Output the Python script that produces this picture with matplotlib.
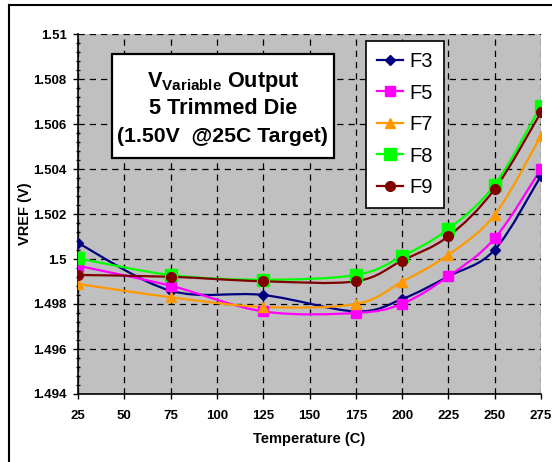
import matplotlib
matplotlib.use('Agg')
import matplotlib.pyplot as plt
from matplotlib.path import Path
from matplotlib.patches import PathPatch, Rectangle
from matplotlib.lines import Line2D
import numpy as np

plt.rcParams['font.family'] = ['Liberation Sans', 'DejaVu Sans']
plt.rcParams['mathtext.fontset'] = 'custom'
plt.rcParams['mathtext.rm'] = 'Liberation Sans:bold'
plt.rcParams['mathtext.it'] = 'Liberation Sans:bold'
plt.rcParams['mathtext.bf'] = 'Liberation Sans:bold'

temps = [25, 75, 125, 175, 200, 225, 250, 275]
f3 = [1.50071, 1.49859, 1.49840, 1.49767, 1.49822, 1.49923, 1.50041, 1.50370]
f5 = [1.49970, 1.49881, 1.49767, 1.49760, 1.49801, 1.49923, 1.50092, 1.50400]
f7 = [1.49889, 1.49830, 1.49787, 1.49800, 1.49899, 1.50019, 1.50197, 1.50548]
f8 = [1.50003, 1.49929, 1.49908, 1.49929, 1.50012, 1.50133, 1.50330, 1.50681]
f9 = [1.49929, 1.49921, 1.49901, 1.49901, 1.49993, 1.50101, 1.50311, 1.50652]

xticks = [25, 50, 75, 100, 125, 150, 175, 200, 225, 250, 275]
yticks = [1.494, 1.496, 1.498, 1.5, 1.502, 1.504, 1.506, 1.508, 1.51]
ytick_labels = ['1.494', '1.496', '1.498', '1.5', '1.502', '1.504',
                '1.506', '1.508', '1.51']

series = [
    ('F3', f3, '#000080', 'D', 5),
    ('F5', f5, '#FF00FF', 's', 7),
    ('F7', f7, '#FF9900', '^', 7.5),
    ('F8', f8, '#00FF00', 's', 8),
    ('F9', f9, '#800000', 'o', 7),
]


def smooth_path(x, y):
    # excel style smoothed line: catmull-rom as cubic bezier
    pts = np.column_stack([x, y]).astype(float)
    n = len(pts)
    verts = [pts[0]]
    codes = [Path.MOVETO]
    for i in range(n - 1):
        p0 = pts[max(i - 1, 0)]
        p1 = pts[i]
        p2 = pts[i + 1]
        p3 = pts[min(i + 2, n - 1)]
        c1 = p1 + (p2 - p0) / 6.0
        c2 = p2 - (p3 - p1) / 6.0
        verts += [c1, c2, p2]
        codes += [Path.CURVE4] * 3
    return Path(verts, codes)


fig = plt.figure(figsize=(5.52, 4.62), dpi=100)
ax = fig.add_axes([78/552, 1 - 394/462, 463/552, 360/462])
ax.set_facecolor('#C0C0C0')

handles = []
for name, vals, col, mk, ms in series:
    ax.add_patch(PathPatch(smooth_path(temps, vals), fill=False,
                           edgecolor=col, lw=1.6, zorder=3))
    ax.plot(temps, vals, linestyle='none', marker=mk, color=col,
            markersize=ms, markeredgecolor=col, zorder=4)
    handles.append(Line2D([], [], color=col, lw=1.6, marker=mk,
                          markersize=ms, label=name))

ax.set_xlim(25, 275)
ax.set_ylim(1.494, 1.51)
ax.set_xticks(xticks)
ax.set_yticks(yticks)
ax.set_yticklabels(ytick_labels)
ax.set_yticks(np.arange(1.494, 1.5101, 0.0004), minor=True)
ax.grid(True, which='major', color='black', linestyle=(0, (5, 4)), lw=0.9)
ax.set_axisbelow(True)
for s in ['top', 'right']:
    ax.spines[s].set_visible(False)
for s in ['left', 'bottom']:
    ax.spines[s].set_linewidth(1.2)
ax.tick_params(axis='both', which='major', labelsize=9.5, length=3.6,
               width=1, direction='out')
ax.tick_params(axis='x', pad=8)
ax.tick_params(axis='y', pad=4.5)
ax.tick_params(axis='y', which='minor', length=3, width=1, direction='inout')
for lab in ax.get_xticklabels() + ax.get_yticklabels():
    lab.set_fontweight('bold')

# title box
ax.add_patch(Rectangle((0.0734, 0.6556), 0.4796, 0.2888, transform=ax.transAxes,
                       facecolor='white', edgecolor='black', lw=1.6, zorder=6))
tx = 0.313
ax.text(tx, 0.868, r'V$_{\mathrm{Variable}}$ Output', transform=ax.transAxes,
        ha='center', va='center', fontsize=15.6, fontweight='bold', zorder=7)
ax.text(tx, 0.792, '5 Trimmed Die', transform=ax.transAxes,
        ha='center', va='center', fontsize=15.6, fontweight='bold', zorder=7)
ax.text(tx, 0.714, '(1.50V  @25C Target)', transform=ax.transAxes,
        ha='center', va='center', fontsize=15.3, fontweight='bold', zorder=7)

leg = ax.legend(handles=handles, loc='upper left',
                bbox_to_anchor=(0.622, 0.9806), fontsize=14.5,
                frameon=True, fancybox=False, framealpha=1,
                edgecolor='black', borderpad=0.55, labelspacing=0.62,
                handlelength=1.3, handletextpad=0.3, borderaxespad=0)
leg.get_frame().set_linewidth(1.2)
leg.set_zorder(8)

fig.text(309/552, 1 - 439/462, 'Temperature (C)', ha='center', va='center',
         fontsize=10.5, fontweight='bold')
fig.text(25/552, 1 - 214/462, 'VREF (V)', ha='center', va='center',
         rotation=90, fontsize=10.5, fontweight='bold')

# outer chart frame
fig.add_artist(Line2D([8.5/552, 8.5/552], [0, 1 - 5/462], color='black',
                      lw=1.5, transform=fig.transFigure))
fig.add_artist(Line2D([8.5/552, 1], [1 - 5/462, 1 - 5/462], color='black',
                      lw=1.5, transform=fig.transFigure))

fig.savefig('out.png', dpi=100)
